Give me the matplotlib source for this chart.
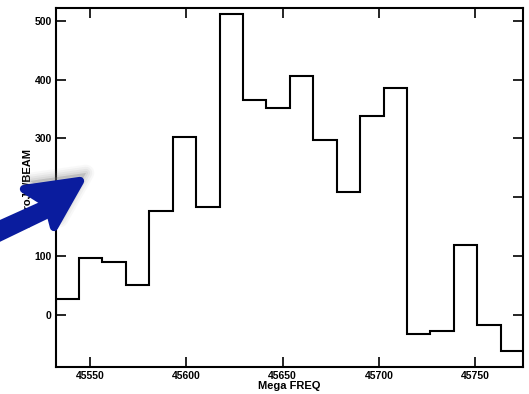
import numpy as np
import matplotlib
matplotlib.use("Agg")
import matplotlib.pyplot as plt
from matplotlib.patches import Polygon

# channel centre frequencies (MHz) and flux per channel
freq = [45538.2, 45550.4, 45562.5, 45574.7, 45586.9, 45599.0, 45611.2,
        45623.4, 45635.5, 45647.7, 45659.9, 45672.0, 45684.2, 45696.4,
        45708.6, 45720.7, 45732.9, 45745.1, 45757.2, 45769.4]
flux = [27, 96, 89, 50, 176, 302, 183, 511, 366, 352, 406, 298, 209, 338,
        385, -32, -27, 118, -17, -62]
xticks = [45550, 45600, 45650, 45700, 45750]
yticks = [0, 100, 200, 300, 400, 500]

plt.rcParams['font.family'] = ['Liberation Sans', 'DejaVu Sans']
plt.rcParams['font.weight'] = 'bold'

freq = np.asarray(freq)
dw = np.mean(np.diff(freq))
edges = np.append(freq - dw / 2, freq[-1] + dw / 2)

W, H = 529, 394
fig = plt.figure(figsize=(W / 100, H / 100), dpi=100)
ax = fig.add_axes([56 / W, 1 - 367 / H, 467 / W, 359 / H])
ax.stairs(flux, edges, color='black', lw=1.5)
ax.set_xlim(45532.3, 45774.9)
ax.set_ylim(-89, 522)
ax.set_xticks(xticks)
ax.set_yticks(yticks)
ax.tick_params(direction='in', length=7, width=1.2, top=True, right=True,
               labelsize=7.5, pad=3)
for s in ax.spines.values():
    s.set_linewidth(1.5)
ax.set_xlabel('Mega FREQ', fontsize=8, fontweight='bold', labelpad=0)
ax.set_ylabel('MicroJY/BEAM', fontsize=8, fontweight='bold', labelpad=2)


# blue pointer arrow (pixel outline, y measured from the top)
def to_fig(pts, dx=0, dy=0):
    return [((x + dx) / W, 1 - (y + dy) / H) for x, y in pts]


head = [(24, 189), (80, 181), (54, 227), (48, 204)]
shaft = [(-10, 229), (50, 202), (48, 214), (-10, 242)]

for k, a in enumerate([0.05, 0.07, 0.09, 0.11]):
    grow = 12 - 3 * k
    fig.patches.append(Polygon(to_fig(head, 6, -8), closed=True,
                               transform=fig.transFigure, fc='gray',
                               ec='gray', lw=grow, alpha=a,
                               joinstyle='round'))
for pts in (head, shaft):
    fig.patches.append(Polygon(to_fig(pts), closed=True,
                               transform=fig.transFigure, fc='#0a1c9e',
                               ec='#0a1c9e', lw=6, joinstyle='round'))

fig.savefig('out.png', dpi=100)
